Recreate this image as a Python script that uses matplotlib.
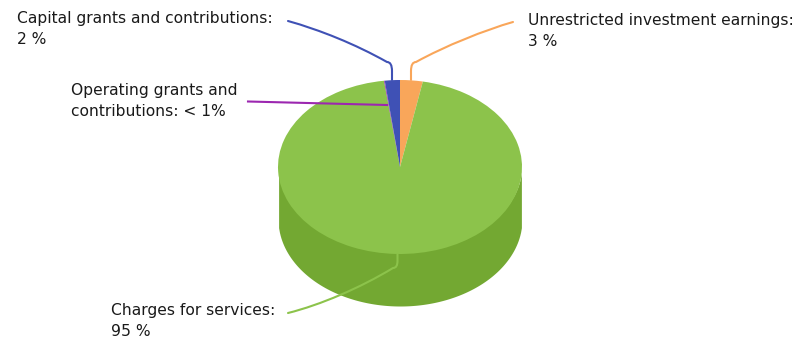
import numpy as np
import matplotlib
matplotlib.use("Agg")
import matplotlib.pyplot as plt
from matplotlib.path import Path
from matplotlib.patches import PathPatch
from matplotlib.transforms import Affine2D

# Revenue shares, clockwise from twelve o'clock
CATEGORIAS = ["Unrestricted investment earnings", "Charges for services",
              "Operating grants and contributions", "Capital grants and contributions"]
VALORES = [3, 95, 0.1, 2]
CORES = ["#F9A65A", "#8CC34B", "#9C27B0", "#3F51B5"]
COR_LATERAL = "#73A832"

# Size of the disc on the canvas (px)
W, H = 804, 338
CX, CY = 400, 167
RX, RY = 122, 87
ALTURA = 52

fig = plt.figure(figsize=(W / 100, H / 100), dpi=100)
ax = fig.add_axes([0, 0, 1, 1])

# Pie in unit radius, flattened afterwards by unequal axis scaling
ax.pie(VALORES, colors=CORES, startangle=90, counterclock=False, radius=1,
       wedgeprops={"linewidth": 0, "zorder": 3})
ax.set_aspect("auto")
ax.set_xlim(-CX / RX, (W - CX) / RX)
ax.set_ylim((CY - H) / RY, CY / RY)

# Side wall of the cylinder, running under the top face to hide the seam
x = np.linspace(-0.995, 0.995, 300)
base = -np.sqrt(1 - x**2)
ax.fill_between(x, base + 0.03, base - ALTURA / RY, color=COR_LATERAL, linewidth=0, zorder=1)

# Canvas pixels, origin at the top left
px = Affine2D().scale(1, -1).translate(0, H)


def guia(inicio, c1, c2, joelho, fim, cor):
    """Leader line: long curve, then a short vertical drop into the slice."""
    dobra = (fim[0], joelho[1] + (fim[1] - joelho[1]) * 0.5)
    pontos = [inicio, c1, c2, joelho, (fim[0], joelho[1]), dobra, fim]
    codigos = [Path.MOVETO, Path.CURVE4, Path.CURVE4, Path.CURVE4,
               Path.CURVE3, Path.CURVE3, Path.LINETO]
    ax.add_patch(PathPatch(Path(pontos, codigos), fc="none", ec=cor, lw=1.5,
                           transform=px, zorder=5, capstyle="round"))


guia((288, 21), (320, 30), (355, 44), (387, 62), (392, 80), CORES[3])
guia((513, 22), (485, 30), (445, 46), (416, 62), (411, 80), CORES[0])
guia((288, 313), (320, 305), (360, 288), (393, 268), (397.5, 254), CORES[1])
ax.plot([248, 387], [101.5, 105], color=CORES[2], lw=1.5, transform=px, zorder=5)

ROTULOS = [
    (17, 29, "Capital grants and contributions:\n2 %"),
    (71, 101, "Operating grants and\ncontributions: < 1%"),
    (528, 30.5, "Unrestricted investment earnings:\n3 %"),
    (111, 320.5, "Charges for services:\n95 %"),
]
for tx, ty, texto in ROTULOS:
    ax.text(tx, ty, texto, transform=px, ha="left", va="center", fontsize=11.2,
            color="#1a1a1a", linespacing=1.5, family="DejaVu Sans", zorder=6)

ax.set_axis_off()
fig.savefig("out.png", dpi=100, facecolor="white")
plt.close(fig)
